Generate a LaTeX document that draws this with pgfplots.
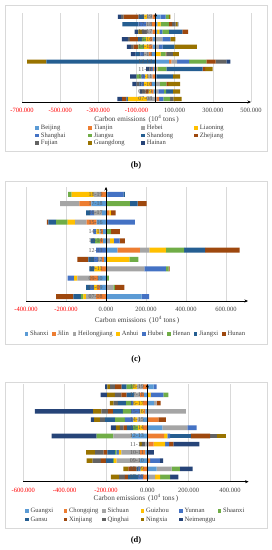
\documentclass[border=0pt]{standalone}
\usepackage{fontspec}
\setmainfont{Liberation Serif}
\usepackage{pgfplots}
\usepackage{pgfplotstable}
\pgfplotsset{compat=1.18}
\usetikzlibrary{arrows.meta}

\definecolor{c1}{HTML}{5B9BD5}
\definecolor{c2}{HTML}{ED7D31}
\definecolor{c3}{HTML}{A5A5A5}
\definecolor{c4}{HTML}{FFC000}
\definecolor{c5}{HTML}{4472C4}
\definecolor{c6}{HTML}{70AD47}
\definecolor{c7}{HTML}{255E91}
\definecolor{c8}{HTML}{9E480E}
\definecolor{c9}{HTML}{636363}
\definecolor{c10}{HTML}{997300}
\definecolor{c11}{HTML}{264478}
\definecolor{gridc}{HTML}{D9D9D9}
\definecolor{labgray}{HTML}{595959}
\definecolor{txt}{HTML}{404040}
\definecolor{negred}{HTML}{FF0000}

\pgfplotscreateplotcyclelist{xl}{%
fill=c1,draw=none\\fill=c2,draw=none\\fill=c3,draw=none\\fill=c4,draw=none\\%
fill=c5,draw=none\\fill=c6,draw=none\\fill=c7,draw=none\\fill=c8,draw=none\\%
fill=c9,draw=none\\fill=c10,draw=none\\fill=c11,draw=none\\}

% values in thousand (10^4 tons); rows: 0 = 07-08 ... 11 = 18-19
% Panel (b): Beijing Tianjin Hebei Liaoning Shanghai Jiangsu Shandong Zhejiang Fujian Guangdong Hainan
\pgfplotstableread{
y A B C D E F G H I J K
0 4 14 -45 -100 23 35 -8 -22 17 43 -25
1 -10 -12 15 -15 28 12 36 -15 -20 38 -12
2 -20 -10 22 -30 -15 35 -10 9 -15 63 -22
3 4 -15 -25 -15 -20 -24 87 0 0 38 -35
4 -8 -6 9 4 -10 43 191 12 -8 40 -17
5 71 12 30 0 63 90 -572 49 56 -101 21
6 -20 -15 -25 26 -20 26 -24 4 35 31 -26
7 -15 -20 17 -25 20 -30 62 -25 -15 117 -20
8 -15 -15 35 -20 43 -22 -20 -43 -10 26 -31
9 8 -15 -30 12 15 35 70 30 -25 -20 -20
10 10 -20 -30 17 -40 43 -84 17 18 10 5
11 26 -15 -30 -14 26 17 -30 -78 -13 9 -17
}\tabB

% Panel (c): Shanxi Jilin Heilongjiang Anhui Hubei Henan Jiangxi Hunan
\pgfplotstableread{
y A B C D E F G H
0 178 -50 -50 -13 38 -13 -37 -87
1 -30 -15 37 -15 -20 8 -20 47
2 -40 -40 -63 -17 -32 15 0 0
3 5 -25 187 -33 108 13 -25 5
4 -10 -10 -20 117 -20 45 -28 -55
5 57 113 47 82 -50 92 105 172
6 -15 -15 20 20 28 -25 -22 27
7 -15 -10 -8 -15 -15 25 0 45
8 -47 -50 -58 -37 145 -58 -38 -8
9 -20 17 -40 8 -20 0 -20 23
10 -73 -60 -97 0 0 120 38 45
11 10 -25 -37 -110 77 -17 8 0
}\tabC

% Panel (d): Guangxi Chongqing Sichuan Guizhou Yunnan Shaanxi Gansu Xinjiang Qinghai Ningxia Neimenggu
\pgfplotstableread{
y A B C D E F G H I J K
0 9 -20 29 24 -25 48 -48 -16 -27 -40 40
1 45 -20 73 -12 -10 40 -10 -40 0 -24 61
2 -35 13 -113 -13 48 -5 -35 -24 -40 -29 16
3 -10 -25 -90 -13 -10 -8 -37 -19 -40 -44 32
4 5 25 -10 56 19 0 0 21 -15 -14 126
5 -75 81 -89 16 13 -81 100 94 35 40 -218
6 73 -20 121 -25 45 -24 -30 -16 -18 -19 -24
7 -20 53 -28 -20 -40 -48 -48 37 -24 -29 -16
8 -10 -8 186 -15 -45 -40 -48 -24 -32 -40 -282
9 32 -20 13 -48 -10 -25 -40 19 -20 -18 0
10 -15 -20 -30 16 62 24 -35 -25 -32 -37 -32
11 30 -20 -30 -20 15 -30 -24 -32 -24 -13 -11
}\tabD

\newcommand{\lbb}[1]{\makebox[47pt][l]{#1}}
\newcommand{\lbd}[1]{\makebox[32.5pt][l]{#1}}

\pgfplotsset{
  base/.style={scale only axis, xbar stacked, enlargelimits=false, anchor=origin,
    ytick={0,1,...,11}, tick style={draw=none}, cycle list name=xl},
  neg/.style={base, axis line style={draw=none}, xticklabels={}, ytick=\empty,
    xmajorgrids, grid style={color=gridc, line width=0.5pt}},
  pos/.style={base, axis on top, axis x line=bottom, axis y line=center,
    axis line style={line width=0.55pt, black},
    x axis line style={-{Stealth[length=3.5pt,width=3pt]}},
    y axis line style={-{Stealth[length=3.5pt,width=3pt]}},
    yticklabels={07-08,08-09,09-10,10-11,11-12,12-13,13-14,14-15,15-16,16-17,17-18,18-19},
    yticklabel style={font=\fontsize{6}{6}\selectfont, text=labgray, inner sep=1pt},
    xticklabel style={font=\fontsize{6.5}{7}\selectfont, text=txt, yshift=-1pt},
    xlabel style={font=\fontsize{7.2}{8}\selectfont, text=txt, at={(axis description cs:0.5,0)}, anchor=center},
    legend cell align=left,
    legend image code/.code={\fill[##1] (0pt,-1.8pt) rectangle (3.6pt,1.8pt);},
  },
  leg/.style={legend style={draw=none, fill=none, inner sep=0pt, anchor=north west,
    font=\fontsize{6.6}{7}\selectfont, text=txt,
    nodes={inner sep=0.6pt, text height=4.8pt, text depth=1.4pt},
    /tikz/every odd column/.append style={column sep=1.2pt}}},
  pb/.style={at={(155.583pt,-99.008pt)}, width=229pt, height=89pt,
    xmin=-700, xmax=500, ymin=-0.4, ymax=11.5, bar width=4.2pt,
    xtick={-700,-500,-300,-100,100,300,500}},
  pc/.style={at={(106pt,-296.716pt)}, width=222pt, height=114pt,
    xmin=-400, xmax=710, ymin=-0.46, ymax=11.78, bar width=5pt,
    xtick={-400,-200,0,200,400,600}},
  pd/.style={at={(147.32pt,-477.02pt)}, width=225.3pt, height=97.7pt,
    xmin=-600, xmax=490, ymin=-0.57, ymax=11.33, bar width=4.6pt,
    xtick={-600,-400,-200,0,200,400}},
}

\begin{document}
\begin{tikzpicture}
\useasboundingbox (0pt,0pt) rectangle (272pt,-550pt);
\fill[white] (0pt,0pt) rectangle (272pt,-550pt);
\draw[gridc, line width=0.6pt] (5pt,-5pt) rectangle (267pt,-151pt);
\draw[gridc, line width=0.6pt] (5pt,-181pt) rectangle (267pt,-344pt);
\draw[gridc, line width=0.6pt] (5pt,-382pt) rectangle (267pt,-528pt);
\node[font=\bfseries\fontsize{8.5}{9}\selectfont] at (136pt,-165pt) {(b)};
\node[font=\bfseries\fontsize{8.5}{9}\selectfont] at (136pt,-359pt) {(c)};
\node[font=\bfseries\fontsize{8.5}{9}\selectfont] at (136pt,-540pt) {(d)};

% ---------- panel (b) ----------
\begin{axis}[neg, pb]
\pgfplotsinvokeforeach{A,B,C,D,E,F,G,H,I,J,K}{
  \addplot table[y=y, x expr={min(\thisrow{#1},0)}]{\tabB};}
\end{axis}
\begin{axis}[pos, leg, pb,
  xticklabels={\textcolor{negred}{-700.000},\textcolor{negred}{-500.000},\textcolor{negred}{-300.000},\textcolor{negred}{-100.000},100.000,300.000,500.000},
  xlabel={Carbon emissions \,(10\textsuperscript{4} tons\,)},
  xlabel style={yshift=-17pt},
  legend columns=4,
  legend style={at={(axis description cs:0.058,-0.25)}},
  ]
\pgfplotsinvokeforeach{A,B,C,D,E,F,G,H,I,J,K}{
  \addplot table[y=y, x expr={max(\thisrow{#1},0)}]{\tabB};}
\legend{\lbb{Beijing},\lbb{Tianjin},\lbb{Hebei},\lbb{Liaoning},\lbb{Shanghai},\lbb{Jiangsu},\lbb{Shandong},\lbb{Zhejiang},\lbb{Fujian},\lbb{Guangdong},\lbb{Hainan}}
\end{axis}

% ---------- panel (c) ----------
\begin{axis}[neg, pc]
\pgfplotsinvokeforeach{A,B,C,D,E,F,G,H}{
  \addplot table[y=y, x expr={min(\thisrow{#1},0)}]{\tabC};}
\end{axis}
\begin{axis}[pos, leg, pc,
  xticklabels={\textcolor{negred}{-400.000},\textcolor{negred}{-200.000},0.000,200.000,400.000,600.000},
  xlabel={Carbon emissions \,(10\textsuperscript{4} tons\,)},
  xlabel style={yshift=-19pt},
  legend columns=8,
  legend style={at={(axis description cs:-0.007,-0.257)},
    /tikz/every even column/.append style={column sep=3.2pt}},
  ]
\pgfplotsinvokeforeach{A,B,C,D,E,F,G,H}{
  \addplot table[y=y, x expr={max(\thisrow{#1},0)}]{\tabC};}
\legend{Shanxi,Jilin,Heilongjiang,Anhui,Hubei,Henan,Jiangxi,Hunan}
\end{axis}

% ---------- panel (d) ----------
\begin{axis}[neg, pd]
\pgfplotsinvokeforeach{A,B,C,D,E,F,G,H,I,J,K}{
  \addplot table[y=y, x expr={min(\thisrow{#1},0)}]{\tabD};}
\end{axis}
\begin{axis}[pos, leg, pd,
  xticklabels={\textcolor{negred}{-600.000},\textcolor{negred}{-400.000},\textcolor{negred}{-200.000},0.000,200.000,400.000},
  xlabel={Carbon emissions \,(10\textsuperscript{4} tons\,)},
  xlabel style={yshift=-16.6pt},
  legend columns=6,
  legend style={at={(axis description cs:0.0075,-0.251)},
    nodes={text height=5.6pt, text depth=2pt}},
  ]
\pgfplotsinvokeforeach{A,B,C,D,E,F,G,H,I,J,K}{
  \addplot table[y=y, x expr={max(\thisrow{#1},0)}]{\tabD};}
\legend{\lbd{Guangxi},\lbd{Chongqing},\lbd{Sichuan},\lbd{Guizhou},\lbd{Yunnan},\lbd{Shaanxi},\lbd{Gansu},\lbd{Xinjiang},\lbd{Qinghai},\lbd{Ningxia},\lbd{Neimenggu}}
\end{axis}
\end{tikzpicture}
\end{document}
